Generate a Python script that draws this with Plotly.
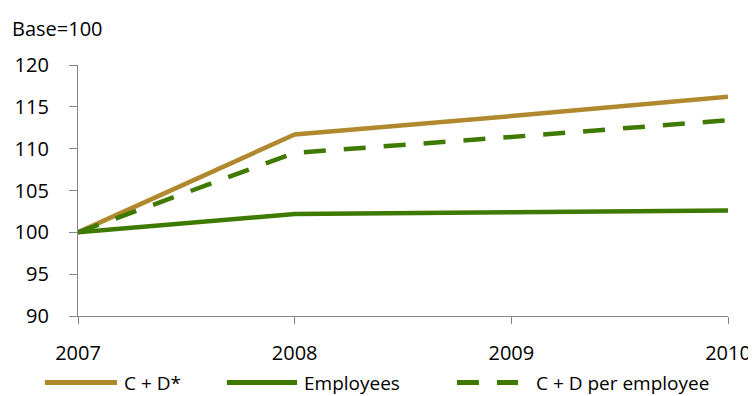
import plotly.graph_objects as go

years = [2007, 2008, 2009, 2010]
cd_total = [100, 111.7, 113.9, 116.2]
employees = [100, 102.2, 102.4, 102.6]
cd_per_employee = [100, 109.5, 111.4, 113.4]

names = ["C + D*", "Employees", "C + D per employee"]
gold = "#B0892F"
green = "#3F7A00"
colors = [gold, green, green]
dashes = ["solid", "solid", "22px,18px"]

font = dict(family="Open Sans, Liberation Sans, sans-serif", size=20, color="#000000")
legend_font = dict(family="Open Sans, Liberation Sans, sans-serif", size=19, color="#000000")

fig = go.Figure()
for name, vals, col, dash in zip(names, [cd_total, employees, cd_per_employee], colors, dashes):
    fig.add_trace(go.Scatter(x=years, y=vals, name=name, mode="lines",
                             line=dict(color=col, width=4.5, dash=dash)))

# hand-made legend below the plot (long sample lines like the original)
legend_pos = [(-0.051, 0.060, 0.068), (0.229, 0.337, 0.345), (0.583, 0.677, 0.702)]
legend_y = -0.265
shapes = []
annotations = []
for (x0, x1, xt), name, col, dash in zip(legend_pos, names, colors, dashes):
    shapes.append(dict(type="line", xref="paper", yref="paper", x0=x0, x1=x1,
                       y0=legend_y, y1=legend_y,
                       line=dict(color=col, width=5, dash=dash)))
    annotations.append(dict(text=name, xref="paper", yref="paper", x=xt, y=legend_y,
                            xanchor="left", yanchor="middle", showarrow=False,
                            font=legend_font))

annotations.append(dict(text="Base=100", xref="paper", yref="paper", x=-0.105, y=1.147,
                        xanchor="left", yanchor="middle", showarrow=False, font=font))

fig.update_layout(
    width=748, height=388,
    margin=dict(l=70, r=28, t=57, b=80),
    paper_bgcolor="white", plot_bgcolor="white",
    font=font,
    showlegend=False,
    shapes=shapes,
    annotations=annotations,
)
fig.update_xaxes(range=[2007, 2010], tickvals=years, showgrid=False, zeroline=False,
                 showline=True, linecolor="#868686", linewidth=1.2, automargin=False,
                 ticks="outside", ticklen=7, tickcolor="#868686", tickfont=font,
                 ticklabelstandoff=12)
fig.update_yaxes(range=[90, 120], dtick=5, showgrid=False, zeroline=False,
                 showline=True, linecolor="#868686", linewidth=1.2, automargin=False,
                 ticks="outside", ticklen=8, tickcolor="#868686", tickfont=font,
                 ticklabelstandoff=16)

fig.write_html("out.html")
